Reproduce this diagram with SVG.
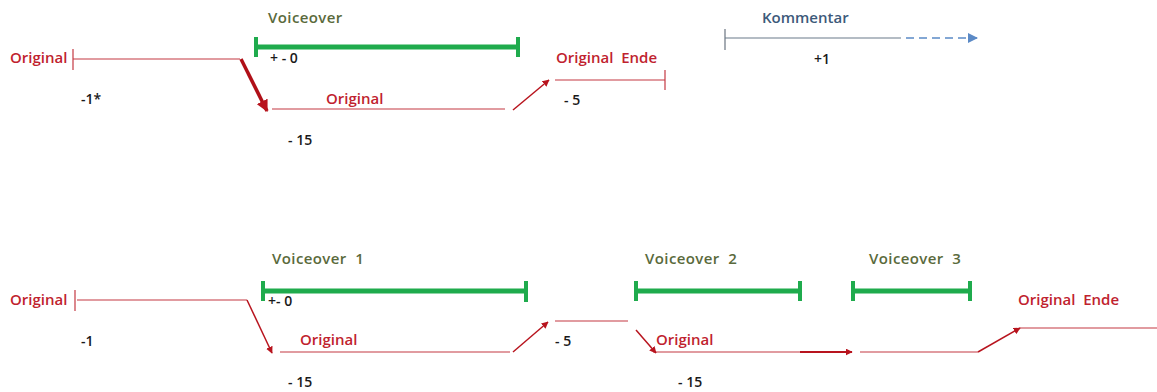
<svg xmlns="http://www.w3.org/2000/svg" width="1157" height="392" viewBox="0 0 1157 392">
<style>
text{font-family:"Open Sans","Liberation Sans",sans-serif;font-weight:600;font-size:15px;white-space:pre}
.red{fill:#c0222e}
.olive{fill:#5a6a3c;letter-spacing:0.4px}
.blk{fill:#1a1a1a;font-size:14px}
.blue{fill:#3d5a7a}
.rl{stroke:#c43842;stroke-width:1.2;fill:none}
.ra{stroke:#b8141e;stroke-width:1.5;fill:none}
.gr{stroke:#1fab4d;stroke-width:5;fill:none}
.gt{stroke:#1fab4d;stroke-width:4;fill:none}
</style>
<defs>
<marker id="ah" viewBox="0 0 10 10" refX="9" refY="5" markerWidth="7" markerHeight="7" orient="auto" markerUnits="userSpaceOnUse"><path d="M0,0 L10,5 L0,10 z" fill="#b8141e"/></marker>
<marker id="ahb" viewBox="0 0 10 10" refX="9" refY="5" markerWidth="12" markerHeight="12" orient="auto" markerUnits="userSpaceOnUse"><path d="M0,0 L10,5 L0,10 z" fill="#b8141e"/></marker>
<marker id="ahblue" viewBox="0 0 10 10" refX="9" refY="5" markerWidth="10" markerHeight="10" orient="auto" markerUnits="userSpaceOnUse"><path d="M0,0 L10,5 L0,10 z" fill="#5b8ac6"/></marker>
</defs>

<g id="top-original">
<text class="red" x="10" y="63">Original</text>
<line class="rl" x1="73" y1="49" x2="73" y2="70"/>
<line class="rl" x1="73" y1="59" x2="240" y2="59"/>
<text class="blk" x="81" y="104">-1*</text>
</g>
<g id="top-voiceover">
<text class="olive" x="268" y="23">Voiceover</text>
<line class="gr" x1="255" y1="47" x2="518" y2="47"/>
<line class="gt" x1="256" y1="37" x2="256" y2="57"/>
<line class="gt" x1="518" y1="37" x2="518" y2="57"/>
<text class="blk" x="270" y="63">+ - 0</text>
</g>
<g id="top-original2">
<text class="red" x="326" y="104">Original</text>
<line class="rl" x1="272" y1="109" x2="505" y2="109"/>
<text class="blk" x="288" y="145">- 15</text>
</g>
<g id="top-original-ende">
<text class="red" x="556" y="63" xml:space="preserve">Original  Ende</text>
<line class="rl" x1="555" y1="80" x2="665" y2="80"/>
<line class="rl" x1="665" y1="70" x2="665" y2="90"/>
<text class="blk" x="564" y="105">- 5</text>
</g>
<g id="top-kommentar">
<text class="blue" x="762" y="23">Kommentar</text>
<line x1="725" y1="29" x2="725" y2="50" stroke="#6a7480" stroke-width="1.2"/>
<line x1="725" y1="38" x2="901" y2="38" stroke="#6a7a8a" stroke-width="1.2"/>
<text class="blk" x="814" y="64">+1</text>
</g>

<g id="bottom-original">
<text class="red" x="10" y="305">Original</text>
<line class="rl" x1="75" y1="290" x2="75" y2="311"/>
<line class="rl" x1="77" y1="300" x2="247" y2="300"/>
<text class="blk" x="81" y="346">-1</text>
</g>
<g id="bottom-voiceover1">
<text class="olive" x="272" y="264" xml:space="preserve">Voiceover  1</text>
<line class="gr" x1="262" y1="291" x2="527" y2="291"/>
<line class="gt" x1="263" y1="281" x2="263" y2="301"/>
<line class="gt" x1="526" y1="281" x2="526" y2="302"/>
<text class="blk" x="268" y="306">+- 0</text>
</g>
<g id="bottom-original2">
<text class="red" x="300" y="345">Original</text>
<line class="rl" x1="280" y1="352" x2="510" y2="352"/>
<text class="blk" x="288" y="387">- 15</text>
</g>
<g id="bottom-gap">
<line class="rl" x1="555" y1="321" x2="628" y2="321"/>
<text class="blk" x="555" y="346">- 5</text>
</g>
<g id="bottom-voiceover2">
<text class="olive" x="645" y="264" xml:space="preserve">Voiceover  2</text>
<line class="gr" x1="636" y1="291" x2="800" y2="291"/>
<line class="gt" x1="636" y1="281" x2="636" y2="301"/>
<line class="gt" x1="800" y1="281" x2="800" y2="301"/>
</g>
<g id="bottom-original3">
<text class="red" x="656" y="345">Original</text>
<line class="rl" x1="653" y1="352" x2="800" y2="352"/>
<text class="blk" x="678" y="387">- 15</text>
</g>
<g id="bottom-voiceover3">
<text class="olive" x="869" y="264" xml:space="preserve">Voiceover  3</text>
<line class="gr" x1="853" y1="291" x2="970" y2="291"/>
<line class="gt" x1="853" y1="281" x2="853" y2="301"/>
<line class="gt" x1="970" y1="281" x2="970" y2="301"/>
</g>
<g id="bottom-original4">
<line class="rl" x1="860" y1="352" x2="978" y2="352"/>
</g>
<g id="bottom-original-ende">
<text class="red" x="1018" y="305" xml:space="preserve">Original  Ende</text>
<line class="rl" x1="1020" y1="328" x2="1157" y2="328"/>
</g>

<g id="connectors">
<line x1="241" y1="59" x2="267" y2="111" stroke="#b01018" stroke-width="3.5" marker-end="url(#ahb)"/>
<line class="ra" x1="513" y1="110" x2="549" y2="80" marker-end="url(#ah)"/>
<line x1="906" y1="38" x2="977" y2="38" stroke="#5b8ac6" stroke-width="1.5" stroke-dasharray="8,5" marker-end="url(#ahblue)"/>
<line class="ra" x1="247" y1="300" x2="272" y2="353" marker-end="url(#ah)"/>
<line class="ra" x1="513" y1="352" x2="548" y2="322" marker-end="url(#ah)"/>
<line class="ra" x1="636" y1="330" x2="656" y2="353" marker-end="url(#ah)"/>
<line x1="800" y1="352" x2="852" y2="352" stroke="#b8141e" stroke-width="2" marker-end="url(#ah)"/>
<line class="ra" x1="978" y1="352" x2="1020" y2="328" marker-end="url(#ah)"/>
</g>
</svg>
